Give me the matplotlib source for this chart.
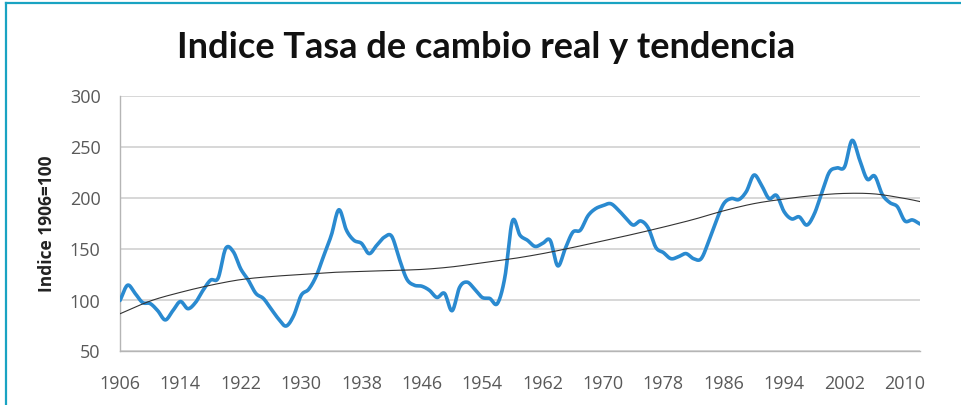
import numpy as np
import matplotlib
matplotlib.use("Agg")
import matplotlib.pyplot as plt
from matplotlib.lines import Line2D

years = list(range(1906, 2013))
index_values = [
    99, 114, 106, 97, 96, 89, 80, 89, 98, 91,      # 1906-1915
    97, 109, 119, 121, 150, 147, 130, 119, 106, 101,  # 1916-1925
    91, 81, 74, 84, 104, 110, 123, 143, 163, 188,   # 1926-1935
    168, 158, 155, 145, 153, 161, 162, 140, 120, 114,  # 1936-1945
    113, 109, 102, 106, 89, 112, 117, 110, 102, 101,  # 1946-1955
    96, 122, 177, 163, 158, 152, 155, 158, 133, 150,  # 1956-1965
    166, 168, 182, 189, 192, 194, 188, 180, 173, 177,  # 1966-1975
    170, 151, 146, 140, 142, 145, 140, 140, 157, 177,  # 1976-1985
    194, 199, 198, 206, 222, 212, 199, 202, 186, 179,  # 1986-1995
    181, 173, 184, 205, 225, 229, 230, 256, 237, 218,  # 1996-2005
    221, 203, 195, 191, 177, 178, 174,              # 2006-2012
]
assert len(years) == len(index_values)

# trend line (polynomial trendline of the original)
trend_years = [1906, 1910, 1914, 1918, 1922, 1926, 1930, 1934, 1938, 1942,
               1946, 1950, 1954, 1958, 1962, 1966, 1970, 1974, 1978, 1982,
               1986, 1990, 1994, 1998, 2002, 2006, 2010, 2012]
trend_values = [86, 98.5, 107, 114, 119.5, 122.5, 124.5, 126.5, 127.5, 128.5,
                129.5, 132, 136, 140, 145, 151, 157.5, 164, 171, 178.5,
                187, 194, 198.5, 202, 204, 203.5, 199, 196]

tick_years = list(range(1906, 2013, 8))
y_ticks = [50, 100, 150, 200, 250, 300]

title = "Indice Tasa de cambio real y tendencia"
ylabel = "Indice 1906=100"


def catmull_rom(x, y, n=12):
    x = np.asarray(x, float)
    y = np.asarray(y, float)
    px = np.concatenate([[2 * x[0] - x[1]], x, [2 * x[-1] - x[-2]]])
    py = np.concatenate([[2 * y[0] - y[1]], y, [2 * y[-1] - y[-2]]])
    xs, ys = [], []
    t = np.linspace(0, 1, n, endpoint=False)
    for i in range(1, len(px) - 2):
        p0, p1, p2, p3 = py[i - 1], py[i], py[i + 1], py[i + 2]
        q0, q1, q2, q3 = px[i - 1], px[i], px[i + 1], px[i + 2]
        t2, t3 = t * t, t * t * t
        ys.append(0.5 * (2 * p1 + (-p0 + p2) * t + (2 * p0 - 5 * p1 + 4 * p2 - p3) * t2 + (-p0 + 3 * p1 - 3 * p2 + p3) * t3))
        xs.append(0.5 * (2 * q1 + (-q0 + q2) * t + (2 * q0 - 5 * q1 + 4 * q2 - q3) * t2 + (-q0 + 3 * q1 - 3 * q2 + q3) * t3))
    xs.append([x[-1]])
    ys.append([y[-1]])
    return np.concatenate(xs), np.concatenate(ys)


fig = plt.figure(figsize=(9.62, 4.06), dpi=100)
W, H = 962, 406
ax = fig.add_axes([120 / W, 1 - 351.5 / H, 800 / W, (351.5 - 96.5) / H])

# main series (smoothed like the spreadsheet line)
sx, sy = catmull_rom(years, index_values)
ax.plot(sx, sy, color="#2a8ad0", lw=2.6, solid_capstyle="round", zorder=3)

# trend line
tx, ty = catmull_rom(trend_years, trend_values, n=20)
ax.plot(tx, ty, color="#333333", lw=0.8, zorder=4)

ax.set_xlim(1906, 2012)
ax.set_ylim(50, 300)
ax.set_yticks(y_ticks)
ax.set_xticks(tick_years)
ax.set_xticklabels([str(t) for t in tick_years])
ax.grid(axis="y", color="#d4d4d4", lw=1.3)
ax.set_axisbelow(True)
for s in ["top", "right"]:
    ax.spines[s].set_visible(False)
ax.spines["left"].set_color("#b5b5b5")
ax.spines["bottom"].set_color("#b5b5b5")
ax.spines["left"].set_linewidth(1.0)
ax.spines["bottom"].set_linewidth(1.0)
ax.tick_params(length=0, labelsize=13, labelcolor="#595959")
ax.tick_params(axis="x", pad=17)
ax.tick_params(axis="y", pad=14)
for lab in ax.get_yticklabels() + ax.get_xticklabels():
    lab.set_family("Open Sans")

fig.text(47 / W, 1 - 224 / H, ylabel, rotation=90, ha="center", va="center",
         fontsize=12.5, fontweight="bold", family="Open Sans", color="#222222")
fig.text(486 / W, 1 - 47 / H, title, ha="center", va="center",
         fontsize=26, fontweight="bold", family="Lato", color="#111111")

# teal frame around the chart (top and left edges visible)
fig.add_artist(Line2D([6 / W, 1.0], [1 - 4 / H, 1 - 4 / H], transform=fig.transFigure,
                      color="#19a3c2", lw=1.6))
fig.add_artist(Line2D([6 / W, 6 / W], [0, 1 - 4 / H], transform=fig.transFigure,
                      color="#19a3c2", lw=1.6))

fig.savefig("out.png", dpi=100)
